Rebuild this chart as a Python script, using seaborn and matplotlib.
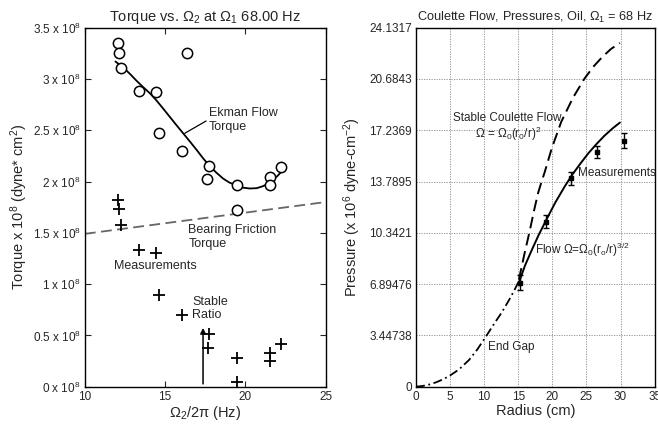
import matplotlib
matplotlib.use('Agg')
import matplotlib.pyplot as plt
import seaborn as sns

# ---- left panel: torque vs outer rotation ----
ekman_f = [12.05, 12.1, 12.24, 13.38, 14.4, 14.62, 16.35, 16.04, 17.7, 17.61,
           19.48, 19.48, 21.55, 21.55, 22.24]
ekman_t = [3.35, 3.25, 3.11, 2.885, 2.875, 2.475, 3.255, 2.294, 2.15, 2.027,
           1.966, 1.72, 2.04, 1.966, 2.14]

stable_f = [12.05, 12.1, 12.28, 13.38, 14.42, 14.62, 16.05, 17.71, 17.65,
            19.46, 19.46, 21.55, 21.51, 22.24]
stable_t = [1.82, 1.73, 1.576, 1.332, 1.306, 0.894, 0.699, 0.514, 0.38,
            0.283, 0.05, 0.328, 0.25, 0.413]

fit_f = [11.9, 12.4, 12.8, 13.2, 13.63, 14.05, 14.46, 14.88, 15.29, 15.7,
         16.12, 16.54, 16.95, 17.37, 17.78, 18.2, 18.6, 19.0, 19.44, 19.85,
         20.27, 20.7, 21.1, 21.42, 21.72, 22.0, 22.24]
fit_t = [3.17, 3.11, 3.05, 2.985, 2.92, 2.86, 2.79, 2.71, 2.63, 2.55,
         2.47, 2.39, 2.31, 2.225, 2.15, 2.085, 2.03, 1.99, 1.962, 1.94,
         1.932, 1.935, 1.955, 1.98, 2.015, 2.055, 2.095]

bearing_f = [10, 25]
bearing_t = [1.49, 1.80]

torque_ticks = [0, 0.5, 1, 1.5, 2, 2.5, 3, 3.5]
torque_labels = ['0 x 10$^8$', '0.5 x 10$^8$', '1 x 10$^8$', '1.5 x 10$^8$',
                 '2 x 10$^8$', '2.5 x 10$^8$', '3 x 10$^8$', '3.5 x 10$^8$']

# ---- right panel: pressure vs radius ----
couette_r = [15.1, 15.9, 16.7, 17.3, 17.9, 18.4, 18.9, 19.9, 21.3, 23.0,
             24.7, 26.0, 27.3, 28.6, 29.9]
couette_p = [7.2, 8.9, 10.5, 11.8, 13.0, 13.75, 14.45, 16.0, 17.8, 19.4,
             20.7, 21.5, 22.15, 22.7, 23.1]

flow_r = [15.1, 16.0, 17.0, 18.0, 19.1, 20.4, 21.8, 23.0, 24.2, 25.3, 26.45,
          27.6, 28.8, 29.9]
flow_p = [7.0, 8.15, 9.2, 10.2, 11.2, 12.35, 13.45, 14.3, 15.05, 15.7, 16.3,
          16.85, 17.35, 17.75]

gap_r = [0, 1.0, 2.0, 3.0, 4.0, 4.9, 6.3, 7.8, 9.0, 10.25, 11.5, 12.6,
         13.66, 14.4, 15.1]
gap_p = [0, 0.05, 0.15, 0.3, 0.5, 0.72, 1.15, 1.8, 2.5, 3.36, 4.25, 5.0,
         5.83, 6.45, 7.1]

meas_r = [15.2, 19.05, 22.75, 26.6, 30.45]
meas_p = [7.0, 11.1, 14.0, 15.76, 16.54]
meas_err = [0.5, 0.45, 0.45, 0.4, 0.5]

press_ticks = [0, 3.44738, 6.89476, 10.3421, 13.7895, 17.2369, 20.6843, 24.1317]
press_labels = ['0', '3.44738', '6.89476', '10.3421', '13.7895', '17.2369',
                '20.6843', '24.1317']

sns.set_style('ticks')
plt.rcParams['font.family'] = ['Liberation Sans', 'DejaVu Sans']
plt.rcParams['mathtext.fontset'] = 'custom'
plt.rcParams['mathtext.rm'] = 'Liberation Sans'
plt.rcParams['mathtext.it'] = 'Liberation Sans:italic'
plt.rcParams['mathtext.default'] = 'regular'

fig = plt.figure(figsize=(6.58, 4.29), dpi=100)
ax1 = fig.add_axes([0.129, 0.0986, 0.366, 0.837])
ax2 = fig.add_axes([0.632, 0.0986, 0.363, 0.837])

# left panel
sns.lineplot(x=fit_f, y=fit_t, ax=ax1, color='black', lw=1.3, sort=False,
             estimator=None)
sns.lineplot(x=bearing_f, y=bearing_t, ax=ax1, color='#666666', lw=1.3,
             estimator=None, linestyle=(0, (6, 3)))
sns.scatterplot(x=ekman_f, y=ekman_t, ax=ax1, marker='o', s=55,
                facecolor='white', edgecolor='black', linewidth=1.1, zorder=3)
sns.scatterplot(x=stable_f, y=stable_t, ax=ax1, marker='+', s=70,
                color='black', linewidth=1.3, zorder=3)

ax1.annotate('', xy=(17.36, 0.6), xytext=(17.36, 0),
             arrowprops=dict(arrowstyle='-|>', color='black', lw=1.1,
                             mutation_scale=8))
ax1.plot([16.22, 17.55], [2.47, 2.59], color='black', lw=0.9)
ax1.text(17.7, 2.6, 'Ekman Flow\nTorque', fontsize=9, va='center',
         linespacing=1.15)
ax1.text(16.45, 1.46, 'Bearing Friction\nTorque', fontsize=9, va='center',
         linespacing=1.15)
ax1.text(11.8, 1.176, 'Measurements', fontsize=9, va='center')
ax1.text(16.7, 0.765, 'Stable\nRatio', fontsize=9, va='center',
         linespacing=1.15)

ax1.set_xlim(10, 25)
ax1.set_ylim(0, 3.5)
ax1.set_xticks([10, 15, 20, 25])
ax1.set_yticks(torque_ticks)
ax1.set_yticklabels(torque_labels)
ax1.tick_params(direction='in', top=True, right=True, labelsize=8.5, length=4,
                width=0.8, pad=3)
ax1.set_title('Torque vs. Ω$_2$ at Ω$_1$ 68.00 Hz', fontsize=10.5, pad=5)
ax1.set_xlabel('Ω$_2$/2π (Hz)', fontsize=10.5, labelpad=1)
ax1.set_ylabel('Torque x 10$^8$ (dyne* cm$^2$)', fontsize=10.5, labelpad=2)

# right panel
ax2.grid(True, color='#888888', linestyle=(0, (1.5, 1.5)), linewidth=0.6)
sns.lineplot(x=gap_r, y=gap_p, ax=ax2, color='black', lw=1.3, sort=False,
             estimator=None, linestyle=(0, (5, 2, 1, 2)))
sns.lineplot(x=couette_r, y=couette_p, ax=ax2, color='black', lw=1.4,
             sort=False, estimator=None, linestyle=(0, (6, 3)))
sns.lineplot(x=flow_r, y=flow_p, ax=ax2, color='black', lw=1.4, sort=False,
             estimator=None)
ax2.errorbar(meas_r, meas_p, yerr=meas_err, fmt='s', ms=3.5, color='black',
             ecolor='black', elinewidth=1.0, capsize=2, capthick=1.0, zorder=4)

ax2.text(5.5, 18.05, 'Stable Coulette Flow', fontsize=8.5, va='center')
ax2.text(8.7, 17.0, 'Ω = Ω$_0$(r$_0$/r)$^2$', fontsize=8.5, va='center')
ax2.text(23.8, 14.34, 'Measurements', fontsize=8.5, va='center')
ax2.text(17.4, 9.2, 'Flow Ω=Ω$_0$(r$_o$/r)$^{3/2}$', fontsize=8.5, va='center')
ax2.text(10.6, 2.7, 'End Gap', fontsize=8.5, va='center')

ax2.set_xlim(0, 35)
ax2.set_ylim(0, 24.1317)
ax2.set_xticks([0, 5, 10, 15, 20, 25, 30, 35])
ax2.set_yticks(press_ticks)
ax2.set_yticklabels(press_labels)
ax2.tick_params(direction='in', labelsize=8.5, length=0, pad=3)
ax2.set_title('Coulette Flow, Pressures, Oil, Ω$_1$ = 68 Hz', fontsize=9.2,
              pad=5)
ax2.set_xlabel('Radius (cm)', fontsize=10.5, labelpad=1)
ax2.set_ylabel('Pressure (x 10$^6$ dyne-cm$^{-2}$)', fontsize=10.5, labelpad=4)

for ax in (ax1, ax2):
    for sp in ax.spines.values():
        sp.set_visible(True)
        sp.set_linewidth(1.0)
        sp.set_color('black')

fig.savefig('out.png', dpi=100)
